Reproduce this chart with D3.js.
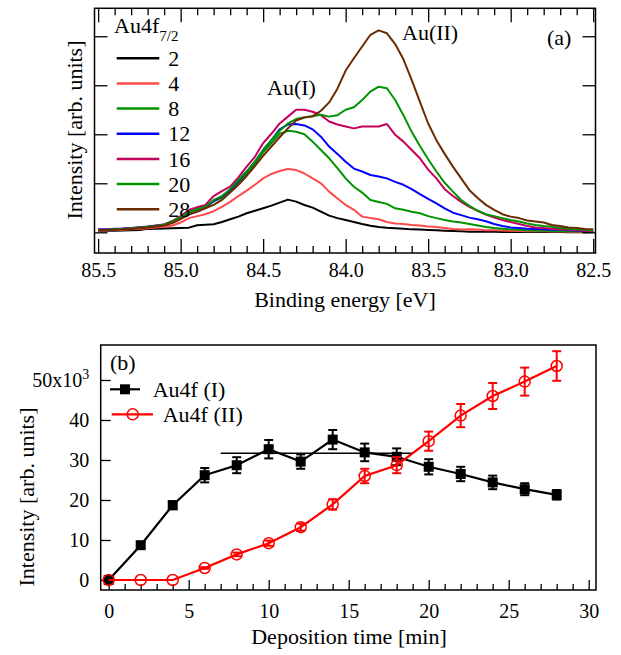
<!DOCTYPE html>
<html><head><meta charset="utf-8">
<script src="https://cdn.jsdelivr.net/npm/d3@7"></script>
<style>
body{margin:0;background:#fff;}
text{font-family:"Liberation Serif","Times New Roman",serif;}
</style>
</head><body>
<svg id="c" width="621" height="655"></svg>
<script>
// ---------- DATA: panel (a) spectra ----------
const energy = [85.50,85.45,85.40,85.35,85.30,85.25,85.20,85.15,85.10,85.05,
  85.00,84.95,84.90,84.85,84.80,84.75,84.70,84.65,84.60,84.55,
  84.50,84.45,84.40,84.35,84.30,84.25,84.20,84.15,84.10,84.05,
  84.00,83.95,83.90,83.85,83.80,83.75,83.70,83.65,83.60,83.55,
  83.50,83.45,83.40,83.35,83.30,83.25,83.20,83.15,83.10,83.05,
  83.00,82.95,82.90,82.85,82.80,82.75,82.70,82.65,82.60,82.55,82.50];

const spec2 = [0.3,0.3,0.3,0.35,0.4,0.45,0.7,0.75,0.78,0.82,
  0.88,0.95,1.43,1.56,1.63,2.1,2.65,3.2,3.88,4.4,
  4.9,5.44,6.05,6.67,6.26,5.58,5.03,4.2,3.4,2.9,
  2.5,2.1,1.7,1.35,1.1,0.95,0.85,0.75,0.6,0.55,
  0.48,0.4,0.34,0.27,0.2,0.14,0.1,0.1,0.1,0.08,
  0.08,0.05,0.05,0.06,0.04,0.05,0.04,0.03,0.05,0.03,0.04];

const spec4 = [0.35,0.4,0.45,0.5,0.6,0.7,0.85,1.0,1.15,1.4,
  2.0,2.9,3.3,3.7,4.3,5.2,6.2,7.4,8.5,9.7,
  11.0,11.9,12.5,12.9,12.7,12.0,11.0,10.0,8.3,6.9,
  5.6,4.6,3.2,2.9,2.65,2.1,1.8,1.7,1.5,1.4,
  1.2,1.1,0.9,0.7,0.55,0.6,0.55,0.4,0.4,0.35,
  0.3,0.25,0.2,0.25,0.2,0.15,0.2,0.1,0.15,0.1,0.1];

const spec8 = [0.45,0.5,0.6,0.7,0.8,0.95,1.1,1.3,1.55,2.1,
  2.9,4.0,4.6,5.1,6.3,7.1,8.5,10.1,12.0,13.9,
  16.3,18.2,20.1,20.7,20.5,20.0,18.5,16.8,15.1,13.1,
  11.0,9.3,8.1,6.6,6.2,5.8,4.9,4.6,4.2,3.9,
  3.3,2.9,2.5,2.2,2.0,1.7,1.4,1.1,0.9,0.75,
  0.6,0.5,0.4,0.35,0.3,0.3,0.2,0.2,0.2,0.15,0.15];

const spec12 = [0.6,0.65,0.75,0.8,0.9,1.05,1.2,1.4,1.6,2.2,
  3.0,4.15,4.7,5.2,6.4,7.3,8.6,10.5,12.4,14.4,
  16.8,18.8,21.0,22.0,22.1,21.8,21.0,19.5,17.5,16.0,
  14.4,13.0,12.4,11.7,11.4,11.0,10.3,9.7,8.8,7.8,
  6.8,5.9,4.9,4.0,3.5,3.0,2.65,2.25,1.7,1.3,
  1.0,0.9,0.75,0.7,0.6,0.5,0.6,0.4,0.35,0.2,0.15];

const spec16 = [0.5,0.55,0.65,0.75,0.85,1.0,1.15,1.35,1.6,2.3,
  3.3,4.56,5.1,5.6,7.4,8.4,9.3,11.2,13.4,15.4,
  18.2,20.1,22.2,23.6,25.0,25.0,24.6,23.9,22.6,22.0,
  21.6,21.2,21.6,21.6,21.6,22.1,19.9,18.5,16.8,15.1,
  12.8,11.0,8.8,7.4,6.2,5.2,4.4,3.6,3.0,2.5,
  2.1,1.7,1.3,1.0,0.9,0.75,0.6,0.5,0.4,0.3,0.2];

const spec20 = [0.45,0.5,0.6,0.7,0.8,0.95,1.1,1.3,1.55,2.2,
  3.1,4.15,4.7,5.2,6.6,7.4,8.8,10.7,12.4,14.4,
  16.8,18.8,20.7,22.2,23.1,23.5,23.7,24.0,23.6,23.9,
  25.0,25.5,27.0,28.7,29.7,29.4,27.0,23.9,20.5,17.6,
  14.9,12.4,10.1,8.3,6.6,5.4,4.4,3.7,3.3,2.9,
  2.5,2.2,1.8,1.5,1.3,1.15,0.95,0.75,0.6,0.5,0.35];

const spec28 = [0.4,0.45,0.5,0.6,0.7,0.85,1.0,1.2,1.4,1.9,
  2.7,3.6,4.2,4.9,5.6,6.6,8.1,9.7,11.5,13.5,
  15.6,17.5,19.4,21.2,22.8,23.4,23.7,24.8,26.5,29.3,
  33.0,35.5,37.9,40.3,41.2,40.6,38.4,35.3,31.1,26.6,
  22.2,18.8,16.0,13.4,11.0,8.6,7.0,5.6,4.6,3.7,
  3.2,2.9,2.4,2.2,2.0,1.5,1.3,1.0,0.9,0.7,0.6];

const specNames = ["2","4","8","12","16","20","28"];
const specData = [spec2, spec4, spec8, spec12, spec16, spec20, spec28];
const topMajorTicks = [85.5, 85.0, 84.5, 84.0, 83.5, 83.0, 82.5];
const topYTicks = [0, 10, 20, 30, 40];

// ---------- DATA: panel (b) ----------
const depTime = [0,2,4,6,8,10,12,14,16,18,20,22,24,26,28];
const au1     = [0,8.7,18.7,26.2,28.7,32.7,29.6,35.1,31.9,30.8,28.3,26.5,24.4,22.7,21.3];
const au1Err  = [0,0.7,1.0,1.8,2.0,2.3,1.8,2.4,2.2,2.1,1.9,1.8,1.7,1.5,1.2];
const au2     = [0,0,0,3.0,6.4,9.2,13.2,18.9,26.0,28.7,34.7,41.1,46.0,49.6,53.5];
const au2Err  = [0,0,0,0.2,0.45,0.65,0.9,1.3,1.8,2.0,2.4,2.9,3.25,3.5,3.7];
const avgStart = 7, avgEnd = 19, avgValue = 31.7;
const botXTicks = [0,5,10,15,20,25,30];
const botYTicks = [0,10,20,30,40,50];
const legendB = ["Au4f (I)", "Au4f (II)"];

// ---------- STYLES ----------
const specColors = ["#000000","#ff4b4b","#009400","#0000ff","#c4005c","#009400","#6b2b00"];
const FS = 22;      // titles, legends, annotations
const TFS = 20;     // tick labels
const FONT = '"Liberation Serif","Times New Roman",serif';

const svg = d3.select("#c");

function styleAxis(g){
  g.select(".domain").remove();
  g.attr("font-size", TFS).attr("font-family", FONT);
  g.selectAll(".tick line").attr("stroke","#000").attr("stroke-width",1.3);
  g.selectAll(".tick text").attr("fill","#000");
}

// ================= PANEL (a) =================
const aL = 94.5, aR = 595.5, aT = 8.3, aB = 253;
const xT = d3.scaleLinear().domain([85.522, 82.486]).range([aL, aR]);
const yT = d3.scaleLinear().domain([-4.22, 45.7]).range([aB, aT]);
const topMinor = d3.range(825, 856, 1).map(d => d/10).filter(d => !topMajorTicks.some(m => Math.abs(m-d) < 1e-6));

// curves
const line = d3.line().x((d,i) => xT(energy[i])).y(d => yT(d));
svg.append("clipPath").attr("id","clipA").append("rect")
  .attr("x",aL).attr("y",aT).attr("width",aR-aL).attr("height",aB-aT);
const gCurves = svg.append("g").attr("clip-path","url(#clipA)");
specData.forEach((s,i) => {
  gCurves.append("path").attr("d", line(s)).attr("fill","none")
    .attr("stroke", specColors[i]).attr("stroke-width", 2).attr("stroke-linejoin","round");
});

// axes (inside ticks)
let g;
g = svg.append("g").attr("transform",`translate(0,${aB})`)
  .call(d3.axisBottom(xT).tickValues(topMajorTicks).tickSize(-14).tickPadding(10).tickFormat(d3.format(".1f")));
styleAxis(g);
g = svg.append("g").attr("transform",`translate(0,${aB})`)
  .call(d3.axisBottom(xT).tickValues(topMinor).tickSize(-7).tickFormat(""));
styleAxis(g);
g = svg.append("g").attr("transform",`translate(0,${aT})`)
  .call(d3.axisTop(xT).tickValues(topMajorTicks).tickSize(-14).tickFormat(""));
styleAxis(g);
g = svg.append("g").attr("transform",`translate(0,${aT})`)
  .call(d3.axisTop(xT).tickValues(topMinor).tickSize(-7).tickFormat(""));
styleAxis(g);
g = svg.append("g").attr("transform",`translate(${aL},0)`)
  .call(d3.axisLeft(yT).tickValues(topYTicks).tickSize(-13).tickFormat(""));
styleAxis(g);
g = svg.append("g").attr("transform",`translate(${aR},0)`)
  .call(d3.axisRight(yT).tickValues(topYTicks).tickSize(-13).tickFormat(""));
styleAxis(g);

svg.append("rect").attr("x",aL).attr("y",aT).attr("width",aR-aL).attr("height",aB-aT)
  .attr("fill","none").attr("stroke","#000").attr("stroke-width",1.5);

// labels
svg.append("text").attr("x",345).attr("y",307).attr("text-anchor","middle")
  .attr("font-size",FS).text("Binding energy [eV]");
svg.append("text").attr("transform","translate(74,130) rotate(-90)").attr("text-anchor","middle")
  .attr("dy","0.35em").attr("font-size",FS).text("Intensity [arb. units]");
svg.append("text").attr("x",267).attr("y",95).attr("font-size",FS).text("Au(I)");
svg.append("text").attr("x",402).attr("y",40).attr("font-size",FS).text("Au(II)");
svg.append("text").attr("x",547).attr("y",45).attr("font-size",FS).text("(a)");

// legend (a)
const lt = svg.append("text").attr("x",114).attr("y",33).attr("font-size",FS);
lt.append("tspan").text("Au4f");
lt.append("tspan").attr("font-size",15).attr("dy",8).text("7/2");
specNames.forEach((n,i) => {
  const yy = 58.3 + i*25.15;
  svg.append("line").attr("x1",116.7).attr("x2",159.3).attr("y1",yy).attr("y2",yy)
    .attr("stroke",specColors[i]).attr("stroke-width",2.5);
  svg.append("text").attr("x",168.3).attr("y",yy).attr("dy","0.35em").attr("font-size",FS).text(n);
});

// ================= PANEL (b) =================
const bL = 100.7, bR = 596, bT = 345, bB = 590;
const xB = d3.scaleLinear().domain([-0.5, 30.456]).range([bL, bR]);
const yB = d3.scaleLinear().domain([-2.5, 58.75]).range([bB, bT]);
const botXMinor = d3.range(0, 31).filter(d => d % 5 !== 0);

g = svg.append("g").attr("transform",`translate(0,${bB})`)
  .call(d3.axisBottom(xB).tickValues(botXTicks).tickSize(-10).tickPadding(13.8));
styleAxis(g);
g = svg.append("g").attr("transform",`translate(0,${bB})`)
  .call(d3.axisBottom(xB).tickValues(botXMinor).tickSize(-6).tickFormat(""));
styleAxis(g);
g = svg.append("g").attr("transform",`translate(${bL},0)`)
  .call(d3.axisLeft(yB).tickValues(botYTicks).tickSize(-10).tickPadding(11.5));
styleAxis(g);
// "50x10^3" label with superscript
g.selectAll(".tick text").filter(d => d === 50).each(function(){
  const t = d3.select(this); t.text("");
  t.append("tspan").text("50x10");
  t.append("tspan").attr("font-size",14).attr("dy",-8).text("3");
});

svg.append("rect").attr("x",bL).attr("y",bT).attr("width",bR-bL).attr("height",bB-bT)
  .attr("fill","none").attr("stroke","#000").attr("stroke-width",1.5);

// average line
svg.append("line").attr("x1",xB(avgStart)).attr("x2",xB(avgEnd))
  .attr("y1",yB(avgValue)).attr("y2",yB(avgValue)).attr("stroke","#000").attr("stroke-width",1.5);

const lineB = d3.line().x((d,i) => xB(depTime[i])).y(d => yB(d));
function drawErr(vals, errs, color){
  const ge = svg.append("g").attr("stroke",color).attr("stroke-width",2);
  vals.forEach((v,i) => {
    const e = errs[i]; if (!e) return;
    const x = xB(depTime[i]);
    ge.append("line").attr("x1",x).attr("x2",x).attr("y1",yB(v-e)).attr("y2",yB(v+e));
    ge.append("line").attr("x1",x-4.5).attr("x2",x+4.5).attr("y1",yB(v-e)).attr("y2",yB(v-e));
    ge.append("line").attr("x1",x-4.5).attr("x2",x+4.5).attr("y1",yB(v+e)).attr("y2",yB(v+e));
  });
}
// series (I)
svg.append("path").attr("d",lineB(au1)).attr("fill","none").attr("stroke","#000").attr("stroke-width",2.2);
drawErr(au1, au1Err, "#000");
svg.append("g").selectAll("rect").data(au1).join("rect")
  .attr("x",(d,i)=>xB(depTime[i])-5).attr("y",d=>yB(d)-5).attr("width",10).attr("height",10).attr("fill","#000");
// series (II)
svg.append("path").attr("d",lineB(au2)).attr("fill","none").attr("stroke","#ff0000").attr("stroke-width",2.2);
drawErr(au2, au2Err, "#ff0000");
svg.append("g").selectAll("circle").data(au2).join("circle")
  .attr("cx",(d,i)=>xB(depTime[i])).attr("cy",d=>yB(d)).attr("r",5.5)
  .attr("fill","none").attr("stroke","#ff0000").attr("stroke-width",1.5);

// labels (b)
svg.append("text").attr("x",349).attr("y",644).attr("text-anchor","middle")
  .attr("font-size",FS).text("Deposition time [min]");
svg.append("text").attr("transform","translate(26,497) rotate(-90)").attr("text-anchor","middle")
  .attr("dy","0.35em").attr("font-size",FS).text("Intensity [arb. units]");
svg.append("text").attr("x",110).attr("y",370).attr("font-size",FS).text("(b)");

// legend (b)
svg.append("line").attr("x1",110).attr("x2",140).attr("y1",389.3).attr("y2",389.3).attr("stroke","#000").attr("stroke-width",2.2);
svg.append("rect").attr("x",120).attr("y",384.3).attr("width",10).attr("height",10).attr("fill","#000");
svg.append("text").attr("x",152.7).attr("y",389.3).attr("dy","0.35em").attr("font-size",FS).text(legendB[0]);
svg.append("line").attr("x1",111.7).attr("x2",153).attr("y1",414.3).attr("y2",414.3).attr("stroke","#ff0000").attr("stroke-width",2.2);
svg.append("circle").attr("cx",132.7).attr("cy",414.3).attr("r",5.5).attr("fill","none").attr("stroke","#ff0000").attr("stroke-width",1.5);
svg.append("text").attr("x",162.7).attr("y",414.3).attr("dy","0.35em").attr("font-size",FS).text(legendB[1]);
</script>
</body></html>
